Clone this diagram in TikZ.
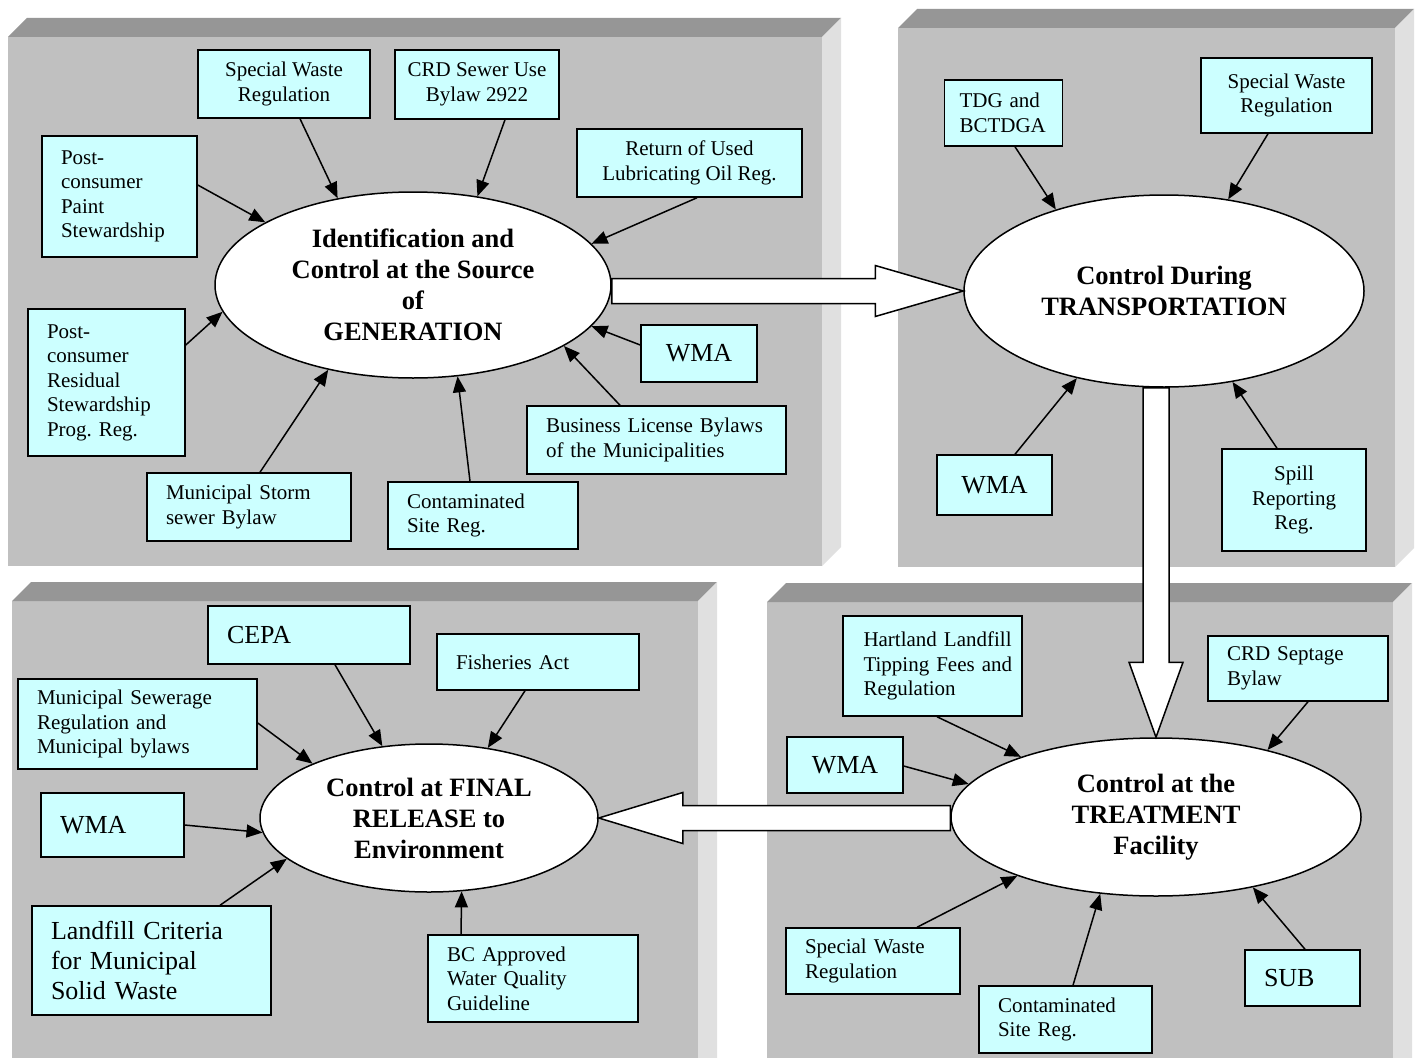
\documentclass[tikz,border=0pt]{standalone}
\usepackage{fontspec}
\setmainfont{Liberation Serif}
\usetikzlibrary{shapes.geometric,arrows.meta,calc}

\definecolor{regcyan}{HTML}{CCFFFF}
\definecolor{panelfront}{HTML}{C0C0C0}
\definecolor{paneltop}{HTML}{969696}
\definecolor{panelside}{HTML}{E0E0E0}

\frenchspacing
\newcommand\regfont{\fontsize{21}{24.5}\selectfont}
\newcommand\wmafont{\fontsize{26}{30}\selectfont}
\newcommand\ovalfont{\fontsize{26.5}{31}\selectfont\bfseries}

\tikzset{
  reg/.style={draw, fill=regcyan, line width=1.5pt, inner sep=0pt, align=center, font=\regfont},
  regl/.style={reg, align=left, inner xsep=19pt, text width=#1},
  oval/.style={ellipse, draw, fill=white, line width=1.5pt, inner sep=0pt, align=center, font=\ovalfont},
  conn/.style={-{Triangle[length=16pt,width=13pt]}, line width=1.5pt},
  bigarrow/.style={draw, fill=white, line width=1.5pt},
}

\begin{document}
\begin{tikzpicture}[x=1pt, y=-1pt]
  \clip (0,0) rectangle (1418,1057);
  \fill[white] (0,0) rectangle (1418,1057);

  % the four grey panels
  \foreach \xa/\ya/\xb/\yb in {8/37/822/566, 898/28/1395/567, 12/601/698/1080, 767/602/1393/1080} {
    \fill[panelfront] (\xa,\ya) rectangle (\xb,\yb);
    \fill[paneltop] (\xa,\ya) -- ++(19,-19) -- (\xb+19,\ya-19) -- (\xb,\ya) -- cycle;
    \fill[panelside] (\xb,\ya) -- (\xb+19,\ya-19) -- (\xb+19,\yb-19) -- (\xb,\yb) -- cycle;
  }

  % generation
  \node[oval, minimum width=396pt, minimum height=186pt] (gen) at (413,285)
    {Identification and\\Control at the Source\\of\\GENERATION};
  \node[reg, minimum width=172pt, minimum height=68pt] (sw1) at (284,84) {Special Waste\\Regulation};
  \node[reg, minimum width=164pt, minimum height=69pt] (crd1) at (477,84.5) {CRD Sewer Use\\Bylaw 2922};
  \node[regl=117pt, minimum height=121pt] (paint) at (119.5,196.5) {Post-\\consumer\\Paint\\Stewardship};
  \node[reg, minimum width=225pt, minimum height=68pt] (oil) at (689.5,163) {Return of Used\\Lubricating Oil Reg.};
  \node[regl=119pt, minimum height=147pt] (resid) at (106.5,382.5) {Post-\\consumer\\Residual\\Stewardship\\Prog. Reg.};
  \node[reg, font=\wmafont, minimum width=116pt, minimum height=57pt] (wma1) at (699,353.5) {WMA};
  \node[regl=221pt, minimum height=68pt] (biz) at (656.5,440) {Business License Bylaws\\of the Municipalities};
  \node[regl=166pt, minimum height=68pt] (storm) at (249,507) {Municipal Storm\\sewer Bylaw};
  \node[regl=152pt, minimum height=67pt] (cont1) at (483,515.5) {Contaminated\\Site Reg.};

  \draw[conn] ([xshift=16pt]sw1.south) -- (gen.131);
  \draw[conn] ([xshift=28pt]crd1.south) -- (gen.54);
  \draw[conn] ([yshift=11.5pt]paint.east) -- (gen.157);
  \draw[conn] ([xshift=7.5pt]oil.south) -- (gen.13);
  \draw[conn] ([yshift=37.5pt]resid.east) -- (gen.188);
  \draw[conn] ([yshift=8.5pt]wma1.west) -- (gen.-13);
  \draw[conn] ([xshift=-36.5pt]biz.north) -- (gen.-22);
  \draw[conn] ([xshift=11pt]storm.north) -- (gen.225);
  \draw[conn] ([xshift=-13pt]cont1.north) -- (gen.-64);

  % transportation
  \node[oval, minimum width=400pt, minimum height=192pt] (trans) at (1164,291)
    {Control During\\TRANSPORTATION};
  \node[regl=88pt, inner xsep=15pt, minimum height=66pt] (tdg) at (1003.5,113) {TDG and\\BCTDGA};
  \node[reg, minimum width=171pt, minimum height=75pt] (sw2) at (1286.5,95.5) {Special Waste\\Regulation};
  \node[reg, font=\wmafont, minimum width=115pt, minimum height=60pt] (wma2) at (994.5,485) {WMA};
  \node[reg, minimum width=144pt, minimum height=102pt] (spill) at (1294,500) {Spill\\Reporting\\Reg.};

  \draw[conn] ([xshift=11.5pt]tdg.south) -- (trans.143);
  \draw[conn] ([xshift=-18.5pt]sw2.south) -- (trans.55);
  \draw[conn] ([xshift=20.5pt]wma2.north) -- (trans.225);
  \draw[conn] ([xshift=-17pt]spill.north) -- (trans.-53);

  % final release
  \node[oval, minimum width=338pt, minimum height=148pt] (rel) at (429,818)
    {Control at FINAL\\RELEASE to\\Environment};
  \node[regl=164pt, font=\wmafont, minimum height=58pt] (cepa) at (309,635) {CEPA};
  \node[regl=164pt, minimum height=56pt] (fish) at (538,662) {Fisheries Act};
  \node[regl=201pt, minimum height=90pt] (msr) at (137.5,724) {Municipal Sewerage\\Regulation and\\Municipal bylaws};
  \node[regl=105pt, font=\wmafont, minimum height=64pt] (wma3) at (112.5,825) {WMA};
  \node[regl=201pt, font=\wmafont, minimum height=109pt] (landfill) at (151.5,960.5) {Landfill Criteria\\for Municipal\\Solid Waste};
  \node[regl=172pt, minimum height=87pt] (bcw) at (533,978.5) {BC Approved\\Water Quality\\Guideline};

  \draw[conn] ([xshift=26pt]cepa.south) -- (rel.123);
  \draw[conn] ([xshift=-13pt]fish.south) -- (rel.50);
  \draw[conn] ([yshift=1pt]msr.east) -- (rel.155);
  \draw[conn] (wma3.east) -- (rel.185);
  \draw[conn] ([xshift=68.5pt]landfill.north) -- (rel.196);
  \draw[conn] ([xshift=-72pt]bcw.north) -- (rel.-66);

  % treatment
  \node[oval, minimum width=410pt, minimum height=158pt] (treat) at (1156,817)
    {Control at the\\TREATMENT\\Facility};
  \node[regl=160pt, inner xsep=9.5pt, minimum height=100pt] (hart) at (932.5,666) {\hspace*{11pt}Hartland Landfill\\\hspace*{11pt}Tipping Fees and\\\hspace*{11pt}Regulation};
  \node[regl=142pt, minimum height=65pt] (sept) at (1298,668.5) {CRD Septage\\Bylaw};
  \node[reg, font=\wmafont, minimum width=116pt, minimum height=56pt] (wma4) at (845,765) {WMA};
  \node[regl=136pt, minimum height=66pt] (sw4) at (873,961) {Special Waste\\Regulation};
  \node[regl=135pt, minimum height=67pt] (cont4) at (1065.5,1019.5) {Contaminated\\Site Reg.};
  \node[regl=77pt, font=\wmafont, minimum height=56pt] (sub) at (1302.5,978) {SUB};

  \draw[conn] ([xshift=4.5pt]hart.south) -- (treat.156);
  \draw[conn] ([xshift=10pt]sept.south) -- (treat.31.5);
  \draw[conn] ([yshift=-1pt]wma4.east) -- (treat.170);
  \draw[conn] ([xshift=44pt]sw4.north) -- (treat.203);
  \draw[conn] ([xshift=7.5pt]cont4.north) -- (treat.234);
  \draw[conn] ([xshift=2.5pt]sub.north) -- (treat.-36);

  % block arrows between the stages
  \draw[bigarrow] let \p1=(gen.east), \p2=(trans.west) in
    (\x1,\y2+12.5pt) -- (\x2-88pt,\y2+12.5pt) -- (\x2-88pt,\y2+25.5pt) -- (\p2)
    -- (\x2-88pt,\y2-25.5pt) -- (\x2-88pt,\y2-12.5pt) -- (\x1,\y2-12.5pt) -- cycle;
  \draw[bigarrow] let \p1=(trans.south), \p2=(treat.north) in
    (\x2-13pt,\y1) -- (\x2-13pt,\y2+75pt) -- (\x2-27pt,\y2+75pt) -- (\p2)
    -- (\x2+27pt,\y2+75pt) -- (\x2+13pt,\y2+75pt) -- (\x2+13pt,\y1) -- cycle;
  \draw[bigarrow] let \p1=(treat.west), \p2=(rel.east) in
    (\x1,\y2+12.5pt) -- (\x2+84pt,\y2+12.5pt) -- (\x2+84pt,\y2+25.5pt) -- (\p2)
    -- (\x2+84pt,\y2-25.5pt) -- (\x2+84pt,\y2-12.5pt) -- (\x1,\y2-12.5pt) -- cycle;
\end{tikzpicture}
\end{document}
